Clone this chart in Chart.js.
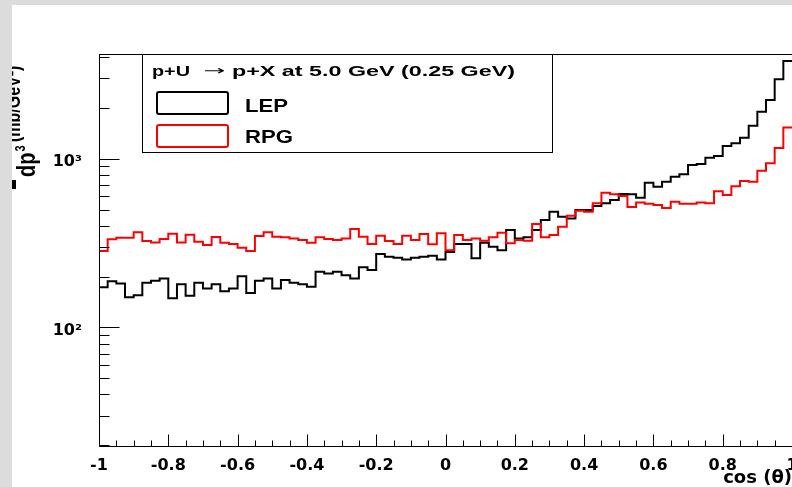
<!DOCTYPE html>
<html>
<head>
<meta charset="utf-8">
<script src="https://cdn.jsdelivr.net/npm/chart.js@4.4.1/dist/chart.umd.min.js"></script>
<style>
  html, body { margin: 0; padding: 0; }
  body { width: 792px; height: 487px; overflow: hidden; background: #dcdcdc; position: relative; }
  #wrap { position: absolute; left: 12px; top: 5px; width: 830px; height: 482px; background: #fff; }
</style>
</head>
<body>
<div id="wrap"><canvas id="histChart" width="830" height="482"></canvas></div>
<script>
(() => {
  // binning of cos(theta): 80 bins from -1 to 1
  const X_MIN = -1;
  const X_MAX = 1;
  const BIN_WIDTH = 0.025;
  const X_MINOR_STEP = 0.05;

  const X_TICKS = [-1, -0.8, -0.6, -0.4, -0.2, 0, 0.2, 0.4, 0.6, 0.8, 1];
  const Y_TICKS = [100, 1000];
  const Y_TICK_LABELS = ["10²", "10³"];
  const Y_MIN = 19.8;
  const Y_MAX = 4180;

  // legend header: reaction, arrow, products
  const LEGEND_TITLE = ["p+U", "→", "p+X at 5.0 GeV (0.25 GeV)"];

  // bin contents (left edge -> right edge)
  const LEP = [
    173, 188, 182, 151, 155, 184, 189, 195, 149, 180,
    154, 184, 170, 180, 164, 170, 201, 160, 189, 195,
    170, 191, 184, 180, 174, 214, 209, 214, 204, 195,
    227, 219, 272, 262, 259, 253, 259, 262, 266, 253,
    280, 312, 312, 257, 318, 301, 287, 378, 337, 342,
    378, 433, 485, 453, 443, 496, 496, 524, 544, 569,
    617, 615, 587, 721, 682, 731, 782, 808, 918, 930,
    1014, 1038, 1190, 1234, 1332, 1569, 1900, 2229, 2958, 3798,
  ];

  const RPG = [
    284, 333, 340, 340, 366, 325, 319, 334, 359, 319,
    354, 322, 308, 343, 318, 312, 297, 284, 348, 366,
    345, 342, 337, 330, 318, 342, 334, 330, 337, 383,
    345, 312, 349, 325, 312, 349, 330, 358, 311, 361,
    287, 353, 330, 337, 326, 342, 364, 315, 330, 326,
    410, 342, 353, 395, 459, 492, 485, 544, 629, 615,
    601, 517, 550, 541, 531, 510, 556, 541, 541, 550,
    544, 642, 609, 686, 739, 731, 848, 939, 1157, 1531,
  ];

  // one point per bin low edge, plus the upper edge of the last bin
  function toSteps(values) {
    const pts = values.map((v, i) => ({ x: X_MIN + i * BIN_WIDTH, y: v }));
    pts.push({ x: X_MAX, y: values[values.length - 1] });
    return pts;
  }

  const tickFont = { family: "'DejaVu Sans', sans-serif", size: 16, weight: "bold" };

  function stretchText(ctx, text, x, y, font, width) {
    ctx.save();
    ctx.font = font;
    const w = ctx.measureText(text).width;
    ctx.translate(x, y);
    ctx.scale(width / w, 1);
    ctx.fillText(text, 0, 0);
    ctx.restore();
  }

  // ROOT-like frame, inward ticks, legend box and y title
  const rootStyle = {
    id: "rootStyle",
    afterDatasetsDraw(chart) {
      const { ctx, chartArea: a } = chart;
      const xs = chart.scales.x;
      const ys = chart.scales.y;
      const L = Math.round(a.left) + 0.5;
      const R = Math.round(a.right) + 0.5;
      const T = Math.round(a.top) + 0.5;
      const B = Math.round(a.bottom) + 0.5;

      ctx.save();
      ctx.strokeStyle = "#000";
      ctx.lineWidth = 1;
      ctx.strokeRect(L, T, R - L, B - T);

      ctx.beginPath();
      const nx = Math.round((X_MAX - X_MIN) / X_MINOR_STEP);
      for (let i = 0; i <= nx; i++) {
        const px = Math.round(xs.getPixelForValue(X_MIN + i * X_MINOR_STEP)) + 0.5;
        const len = i % 4 === 0 ? 12 : 6;
        ctx.moveTo(px, B);
        ctx.lineTo(px, B - len);
      }
      for (let dec = 10; dec <= 1000; dec *= 10) {
        for (let m = 1; m <= 9; m++) {
          const v = m * dec;
          if (v < Y_MIN || v > Y_MAX) continue;
          const py = Math.round(ys.getPixelForValue(v)) + 0.5;
          ctx.moveTo(L, py);
          ctx.lineTo(L + (m === 1 ? 20 : 10), py);
        }
      }
      ctx.stroke();

      // legend
      ctx.fillStyle = "#fff";
      ctx.fillRect(130, 49, 410, 98);
      ctx.strokeRect(130.5, 49.5, 410, 98);
      ctx.fillStyle = "#000";
      ctx.textBaseline = "alphabetic";
      stretchText(ctx, LEGEND_TITLE[0], 140, 71, "bold 15px 'Liberation Sans'", 38);
      stretchText(ctx, LEGEND_TITLE[1], 191, 70, "13px 'DejaVu Sans'", 22);
      stretchText(ctx, LEGEND_TITLE[2], 220, 71, "bold 15px 'Liberation Sans'", 283);
      const rows = [
        { y: 87, base: 107, w: 43 },
        { y: 120, base: 138, w: 48 },
      ];
      chart.data.datasets.forEach((ds, i) => {
        const r = rows[i];
        ctx.strokeStyle = ds.borderColor;
        ctx.lineWidth = 2;
        ctx.beginPath();
        ctx.roundRect(145, r.y, 71, 22, 2);
        ctx.stroke();
        ctx.fillStyle = "#000";
        stretchText(ctx, ds.label, 233, r.base, "bold 18px 'Liberation Sans'", r.w);
      });

      // y title, partly hidden by the pad edge
      ctx.fillStyle = "#000";
      ctx.save();
      ctx.translate(23, 172);
      ctx.rotate(-Math.PI / 2);
      ctx.scale(1, 1.25);
      ctx.font = "bold 20px 'Liberation Sans'";
      ctx.fillText("dp", 0, 0);
      const dw = ctx.measureText("dp").width;
      ctx.font = "bold 11px 'Liberation Sans'";
      ctx.fillText("3", dw + 1, -8);
      ctx.restore();
      ctx.save();
      ctx.translate(8, 137);
      ctx.rotate(-Math.PI / 2);
      ctx.scale(1, 1.25);
      ctx.font = "bold 16px 'Liberation Sans'";
      ctx.fillText("(mb/GeV²)", 0, 0);
      ctx.restore();
      ctx.fillRect(0, 175, 4, 9);
      ctx.restore();
    },
  };

  const ctx = document.getElementById("histChart").getContext("2d");
  new Chart(ctx, {
    type: "line",
    data: {
      datasets: [
        {
          label: "LEP",
          data: toSteps(LEP),
          borderColor: "#000000",
          borderWidth: 2,
          stepped: "before",
          pointRadius: 0,
          fill: false,
          order: 1,
        },
        {
          label: "RPG",
          data: toSteps(RPG),
          borderColor: "#ff0000",
          borderWidth: 2,
          stepped: "before",
          pointRadius: 0,
          fill: false,
          order: 0,
        },
      ],
    },
    options: {
      responsive: false,
      animation: false,
      events: [],
      layout: { padding: { top: 49, right: 50, bottom: 0, left: 0 } },
      plugins: {
        legend: { display: false },
        tooltip: { enabled: false },
      },
      scales: {
        x: {
          type: "linear",
          min: X_MIN,
          max: X_MAX,
          grid: { display: false },
          border: { display: false },
          afterBuildTicks: (s) => {
            s.ticks = X_TICKS.map((v) => ({ value: v }));
          },
          ticks: {
            autoSkip: false,
            maxRotation: 0,
            padding: 2,
            color: "#000",
            font: tickFont,
            callback: (v) => String(+Number(v).toFixed(1)),
          },
          title: {
            display: true,
            text: "cos (θ)",
            align: "end",
            color: "#000",
            padding: 0,
            font: { family: "'DejaVu Sans', sans-serif", size: 18, weight: "bold", lineHeight: 1 },
          },
          afterFit: (s) => {
            s.height = 41;
          },
        },
        y: {
          type: "logarithmic",
          min: Y_MIN,
          max: Y_MAX,
          grid: { display: false },
          border: { display: false },
          afterBuildTicks: (s) => {
            s.ticks = Y_TICKS.map((v) => ({ value: v }));
          },
          ticks: {
            autoSkip: false,
            padding: 9,
            labelOffset: 3,
            color: "#000",
            font: tickFont,
            callback: (v) => Y_TICK_LABELS[Y_TICKS.indexOf(v)],
          },
          afterFit: (s) => {
            s.width = 87;
          },
        },
      },
    },
    plugins: [rootStyle],
  });
})();
</script>
</body>
</html>
